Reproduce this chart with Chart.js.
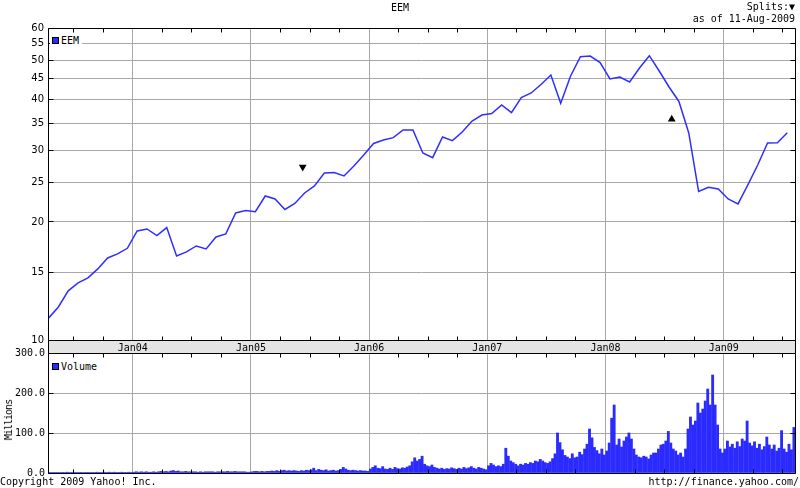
<!DOCTYPE html>
<html><head><meta charset="utf-8">
<script src="https://cdn.jsdelivr.net/npm/chart.js@4/dist/chart.umd.min.js"></script>
<style>
html,body{margin:0;padding:0;background:#fff;}
#wrap{position:relative;width:800px;height:488px;overflow:hidden;font-family:'DejaVu Sans Mono',monospace;font-size:10px;color:#000;}
canvas{position:absolute;left:0;}
.t{position:absolute;white-space:nowrap;line-height:10px;}
.lg{position:absolute;background:#fff;height:12px;line-height:12px;white-space:nowrap;padding-right:2px;color:#000;}
.sw{position:absolute;width:5px;height:5px;background:#2b2bff;border:1px solid #000;}
</style></head>
<body><div id="wrap">
<canvas id="top" width="800" height="353" style="top:0"></canvas>
<canvas id="vol" width="800" height="148" style="top:340px"></canvas>
<div class="t" style="left:0;width:800px;text-align:center;top:3px">EEM</div>
<div class="t" style="right:5px;top:2px">Splits:▼</div>
<div class="t" style="right:5px;top:14px">as of 11-Aug-2009</div>
<div class="lg" style="left:50px;top:35px;width:30px"><span class="sw" style="left:2px;top:2px"></span><span style="position:absolute;left:11px;top:0">EEM</span></div>
<div class="lg" style="left:50px;top:361px;width:47px"><span class="sw" style="left:2px;top:2px"></span><span style="position:absolute;left:11px;top:0">Volume</span></div>
<div class="t" style="left:9px;top:420px;transform:translate(-50%,-50%) rotate(-90deg);transform-origin:center;letter-spacing:-1px">Millions</div>
<div class="t" style="left:0;top:477px">Copyright 2009 Yahoo! Inc.</div>
<div class="t" style="right:1px;top:477px">http://finance.yahoo.com/</div>
</div>
<script>
// ---- data (monthly closes, EEM) ----
const price2003 = [11.60, 12.36, 13.54, 14.16, 14.57, 15.33, 16.31, 16.69, 17.23]; // Apr..Dec
const price2004 = [19.01, 19.22, 18.51, 19.37, 16.50, 16.88, 17.46, 17.17, 18.37, 18.69, 21.05, 21.33];
const price2005 = [21.20, 23.17, 22.78, 21.47, 22.21, 23.57, 24.53, 26.40, 26.47, 25.95, 27.47, 29.23];
const price2006 = [31.20, 31.83, 32.24, 33.67, 33.67, 29.56, 28.79, 32.37, 31.70, 33.29, 35.43, 36.66];
const price2007 = [36.97, 38.80, 37.14, 40.48, 41.53, 43.57, 45.98, 39.17, 45.72, 51.00, 51.20, 49.35];
const price2008 = [44.95, 45.46, 44.20, 47.84, 51.29, 47.03, 42.96, 39.58, 33.11, 23.77, 24.35, 24.11];
const price2009 = [22.78, 22.15, 24.67, 27.62, 31.29, 31.34, 33.16]; // Jan..Jul

// volume, millions, four values per month (quarter-month)
const vol2003 = [1,1,1,1, 1,1,1,1, 1,2,1,1, 1,1,1,1, 1,1,1,1, 1,2,1,1, 2,1,2,1, 2,1,1,2, 1,1,2,1];
const vol2004 = [2,3,2,3, 2,3,2,2, 3,2,3,4, 3,4,3,5, 6,4,5,3, 3,4,3,3, 3,3,2,3, 2,3,3,3, 3,2,3,3, 3,3,4,3, 3,4,3,3, 3,3,2,2];
const vol2005 = [3,4,4,3, 4,3,4,4, 5,4,6,4, 6,7,5,6, 5,6,5,4, 6,5,7,6, 8,12,6,9, 7,6,8,5, 6,7,5,6, 9,14,10,7, 6,7,6,5, 6,5,5,4];
const vol2006 = [10,14,18,12, 11,16,10,9, 12,9,14,11, 10,13,12,15, 18,28,38,30, 34,42,22,18, 16,20,14,12, 10,12,9,11, 10,13,11,9, 12,10,14,11, 13,16,12,10, 14,12,10,8];
const vol2007 = [18,24,20,16, 18,16,22,62, 42,30,26,22, 18,22,20,24, 22,26,24,30, 28,34,30,26, 24,28,36,48, 100,76,58,44, 40,36,48,38, 40,52,46,60, 72,110,88,64, 56,48,60,45];
const vol2008 = [55,75,137,170, 70,85,65,80, 90,100,85,60, 45,40,38,42, 40,35,45,50, 50,60,70,72, 80,104,75,60, 55,45,50,40, 60,110,140,120, 130,175,150,160, 180,210,170,245, 170,120,60,50];
const vol2009 = [60,80,65,72, 62,78,66,85, 80,130,75,68, 78,62,72,58, 66,90,70,60, 70,55,62,106, 60,52,72,58, 114,70];

const xRange = [2003.283, 2009.603];           // 14-Apr-2003 .. 11-Aug-2009
const yearTicks = [2004, 2005, 2006, 2007, 2008, 2009];
const priceTicks = [10, 15, 20, 25, 30, 35, 40, 45, 50, 55, 60];
const priceRange = [10.25, 60];
const volTicks = [0, 100, 200, 300];
const splitX = [2005.438, 2008.56];
const splitY = [27.3, 35.8];

const priceSeries = [[2003,3,price2003],[2004,0,price2004],[2005,0,price2005],[2006,0,price2006],[2007,0,price2007],[2008,0,price2008],[2009,0,price2009]];
const volSeries = [[2003,3,vol2003],[2004,0,vol2004],[2005,0,vol2005],[2006,0,vol2006],[2007,0,vol2007],[2008,0,vol2008],[2009,0,vol2009]];

const pricePts = [];
priceSeries.forEach(([yr,m0,arr]) => arr.forEach((v,i) => pricePts.push({x: yr + (m0 + i + 0.45)/12, y: v})));
const volPts = [];
volSeries.forEach(([yr,m0,arr]) => arr.forEach((v,i) => volPts.push({x: yr + (m0 + (i + 0.5)/4)/12, y: v})));

const quarterTicks = [];
for (let yr = 2003; yr <= 2009; yr++) [0.25,0.5,0.75].forEach(q => { const v = yr + q; if (v > xRange[0] && v < xRange[1]) quarterTicks.push(v); });

Chart.defaults.font.family = "'DejaVu Sans Mono', monospace";
Chart.defaults.font.size = 10;
Chart.defaults.color = '#000';

const GRID = '#a8a8a8';
const al = p => Math.round(p - 0.5) + 0.5;

const frame = {
  id: 'frame',
  beforeDraw(chart, args, o) {
    if (!o.band) return;
    const a = chart.chartArea, ctx = chart.ctx;
    ctx.save(); ctx.fillStyle = '#e4e4e4';
    ctx.fillRect(a.left, a.bottom, a.right - a.left, 13);
    ctx.restore();
  },
  afterDraw(chart, args, o) {
    const {ctx, chartArea: a, scales} = chart;
    const L = al(a.left), R = al(a.right), T = al(a.top), B = al(a.bottom);
    ctx.save(); ctx.strokeStyle = '#000'; ctx.lineWidth = 1; ctx.beginPath();
    ctx.rect(L, T, R - L, B - T);
    scales.y.ticks.forEach(t => { const p = al(scales.y.getPixelForValue(t.value));
      ctx.moveTo(L, p); ctx.lineTo(L + 5, p); ctx.moveTo(R, p); ctx.lineTo(R - 5, p); });
    quarterTicks.forEach(v => { const p = al(scales.x.getPixelForValue(v));
      ctx.moveTo(p, T); ctx.lineTo(p, T + 4); ctx.moveTo(p, B); ctx.lineTo(p, B - 4); });
    if (o.band) { ctx.moveTo(L, B); ctx.lineTo(L, B + 13); ctx.moveTo(R, B); ctx.lineTo(R, B + 13); }
    ctx.stroke(); ctx.restore();
  }
};

const xScale = (showLabels) => ({
  type: 'linear', min: xRange[0], max: xRange[1], offset: false, bounds: 'ticks',
  afterDataLimits: s => { s.min = xRange[0]; s.max = xRange[1]; },
  afterBuildTicks: s => { s.ticks = yearTicks.map(v => ({value: v})); },
  afterFit: s => { s.height = showLabels ? 13 : 0; },
  grid: {color: GRID, drawTicks: false, offset: false},
  border: {display: false},
  ticks: {display: showLabels, autoSkip: false, maxRotation: 0, padding: 2,
          callback: v => 'Jan' + String(v).slice(2)}
});

new Chart(document.getElementById('top'), {
  type: 'line',
  data: { datasets: [
    {data: pricePts, borderColor: '#2f2fff', borderWidth: 1.5, pointRadius: 0, tension: 0, fill: false},
    {data: [{x: splitX[0], y: splitY[0]}], showLine: false, pointStyle: 'triangle', rotation: 180, pointRadius: 4.5, backgroundColor: '#000', borderColor: '#000', borderWidth: 0},
    {data: [{x: splitX[1], y: splitY[1]}], showLine: false, pointStyle: 'triangle', rotation: 0, pointRadius: 4.5, backgroundColor: '#000', borderColor: '#000', borderWidth: 0}
  ]},
  options: {
    responsive: false, animation: false, devicePixelRatio: 1,
    layout: {padding: {top: 28, left: 0, right: 5, bottom: 0}},
    plugins: {legend: {display: false}, tooltip: {enabled: false}, frame: {band: true}},
    scales: {
      x: xScale(true),
      y: {type: 'logarithmic', min: priceRange[0], max: priceRange[1],
          afterBuildTicks: s => { s.ticks = priceTicks.map(v => ({value: v === 10 ? priceRange[0] : v})); },
          afterFit: s => { s.width = 48; },
          grid: {color: GRID, drawTicks: false}, border: {display: false},
          ticks: {padding: 4, font: {family: "'DejaVu Sans', sans-serif", size: 10},
                  callback: (v, i) => String(priceTicks[i])}}
    }
  },
  plugins: [frame]
});

new Chart(document.getElementById('vol'), {
  type: 'bar',
  data: { datasets: [{data: volPts, backgroundColor: '#2b2bff', borderWidth: 0, barThickness: 2.2}] },
  options: {
    responsive: false, animation: false, devicePixelRatio: 1,
    layout: {padding: {top: 13, left: 0, right: 5, bottom: 15}},
    plugins: {legend: {display: false}, tooltip: {enabled: false}, frame: {band: false}},
    scales: {
      x: xScale(false),
      y: {type: 'linear', min: 0, max: 300,
          afterBuildTicks: s => { s.ticks = volTicks.map(v => ({value: v})); },
          afterFit: s => { s.width = 48; },
          grid: {color: GRID, drawTicks: false}, border: {display: false},
          ticks: {padding: 3, callback: v => v.toFixed(1)}}
    }
  },
  plugins: [frame]
});
</script>
</body></html>
